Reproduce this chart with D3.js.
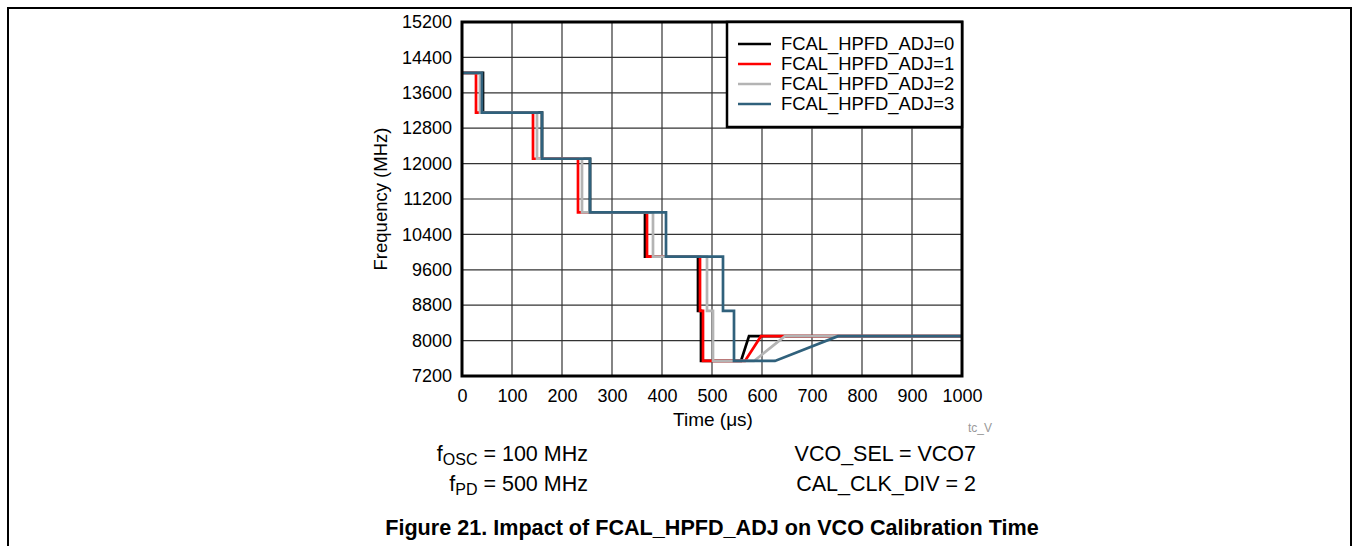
<!DOCTYPE html>
<html>
<head>
<meta charset="utf-8">
<script src="https://cdn.jsdelivr.net/npm/d3@7"></script>
<style>
  body { margin: 0; background: #fff; }
  svg { display: block; font-family: "Liberation Sans", Arial, sans-serif; }
</style>
</head>
<body>
<div id="chart"></div>
<script>
// ---- data ----
const xTicks = [0, 100, 200, 300, 400, 500, 600, 700, 800, 900, 1000];
const yTicks = [7200, 8000, 8800, 9600, 10400, 11200, 12000, 12800, 13600, 14400, 15200];

const seriesNames = ["FCAL_HPFD_ADJ=0", "FCAL_HPFD_ADJ=1", "FCAL_HPFD_ADJ=2", "FCAL_HPFD_ADJ=3"];
const seriesColors = ["#000000", "#ff0000", "#b4b4b4", "#30617c"];

// time (us) / frequency (MHz) pairs for each setting
const adj0Time = [0, 42, 42, 160, 160, 256, 256, 366, 366, 472, 472, 478, 478, 558, 574, 1000];
const adj0Freq = [14050, 14050, 13150, 13150, 12110, 12110, 10900, 10900, 9900, 9900, 8670, 8670, 7540, 7540, 8100, 8100];

const adj1Time = [0, 28, 28, 142, 142, 232, 232, 370, 370, 476, 476, 482, 482, 566, 598, 1000];
const adj1Freq = [14050, 14050, 13150, 13150, 12110, 12110, 10900, 10900, 9900, 9900, 8670, 8670, 7540, 7540, 8100, 8100];

const adj2Time = [0, 36, 36, 150, 150, 240, 240, 382, 382, 490, 490, 502, 502, 584, 646, 1000];
const adj2Freq = [14050, 14050, 13150, 13150, 12110, 12110, 10900, 10900, 9900, 9900, 8670, 8670, 7540, 7540, 8100, 8100];

const adj3Time = [0, 40, 40, 160, 160, 256, 256, 408, 408, 522, 522, 544, 544, 626, 752, 1000];
const adj3Freq = [14050, 14050, 13150, 13150, 12110, 12110, 10900, 10900, 9900, 9900, 8670, 8670, 7540, 7540, 8100, 8100];

const allTimes = [adj0Time, adj1Time, adj2Time, adj3Time];
const allFreqs = [adj0Freq, adj1Freq, adj2Freq, adj3Freq];

// ---- layout ----
const W = 1353, H = 546;
const plot = { left: 462, right: 962, top: 22, bottom: 376 };

const svg = d3.select("#chart").append("svg")
  .attr("width", W)
  .attr("height", H);

// page frame
svg.append("path")
  .attr("d", `M8,${H} L8,8 L1351,8 L1351,${H}`)
  .attr("fill", "none")
  .attr("stroke", "#000")
  .attr("stroke-width", 2);

const x = d3.scaleLinear().domain([0, 1000]).range([plot.left, plot.right]);
const y = d3.scaleLinear().domain([7200, 15200]).range([plot.bottom, plot.top]);

// grid
const grid = svg.append("g");
grid.selectAll(".vg")
  .data(xTicks.slice(1, -1))
  .enter().append("line")
  .attr("x1", d => x(d)).attr("x2", d => x(d))
  .attr("y1", plot.top).attr("y2", plot.bottom)
  .attr("stroke", "#333").attr("stroke-width", 1.2);
grid.selectAll(".hg")
  .data(yTicks.slice(1, -1))
  .enter().append("line")
  .attr("x1", plot.left).attr("x2", plot.right)
  .attr("y1", d => y(d)).attr("y2", d => y(d))
  .attr("stroke", "#333").attr("stroke-width", 1.2);

// axes labels (no tick marks in the figure)
const xAxis = svg.append("g")
  .attr("transform", `translate(0,${plot.bottom + 9})`)
  .call(d3.axisBottom(x).tickValues(xTicks).tickSize(0).tickPadding(0).tickFormat(d3.format("d")));
const yAxis = svg.append("g")
  .attr("transform", `translate(${plot.left - 10},0)`)
  .call(d3.axisLeft(y).tickValues(yTicks).tickSize(0).tickPadding(0).tickFormat(d3.format("d")));
[xAxis, yAxis].forEach(a => {
  a.select(".domain").remove();
  a.selectAll("text")
    .attr("font-family", "Liberation Sans, Arial, sans-serif")
    .attr("font-size", 18)
    .attr("fill", "#000");
});
xAxis.selectAll("text").attr("dy", "0.95em");

// lines
const line = d3.line().x(d => x(d[0])).y(d => y(d[1]));
allTimes.forEach((times, i) => {
  const pts = times.map((t, k) => [t, allFreqs[i][k]]);
  svg.append("path")
    .datum(pts)
    .attr("fill", "none")
    .attr("stroke", seriesColors[i])
    .attr("stroke-width", 2.7)
    .attr("stroke-linejoin", "miter")
    .attr("d", line);
});

// plot border
svg.append("rect")
  .attr("x", plot.left).attr("y", plot.top)
  .attr("width", plot.right - plot.left)
  .attr("height", plot.bottom - plot.top)
  .attr("fill", "none")
  .attr("stroke", "#000")
  .attr("stroke-width", 3);

// legend
const lg = svg.append("g");
lg.append("rect")
  .attr("x", 727).attr("y", plot.top)
  .attr("width", plot.right - 727).attr("height", 105)
  .attr("fill", "#fff")
  .attr("stroke", "#000")
  .attr("stroke-width", 2.5);
seriesNames.forEach((name, i) => {
  const cy = 44 + i * 20;
  lg.append("line")
    .attr("x1", 738).attr("x2", 771)
    .attr("y1", cy).attr("y2", cy)
    .attr("stroke", seriesColors[i])
    .attr("stroke-width", 2.5);
  lg.append("text")
    .attr("x", 781).attr("y", cy)
    .attr("dy", "0.35em")
    .attr("font-size", 18.4)
    .text(name);
});

// axis titles
svg.append("text")
  .attr("transform", "translate(387,199) rotate(-90)")
  .attr("text-anchor", "middle")
  .attr("font-size", 18.5)
  .text("Frequency (MHz)");
svg.append("text")
  .attr("x", 713).attr("y", 426)
  .attr("text-anchor", "middle")
  .attr("font-size", 19)
  .text("Time (\u03bcs)");
svg.append("text")
  .attr("x", 992).attr("y", 432)
  .attr("text-anchor", "end")
  .attr("font-size", 12)
  .attr("fill", "#999")
  .text("tc_V");

// conditions
function note(xp, yp, parts) {
  const t = svg.append("text")
    .attr("x", xp).attr("y", yp)
    .attr("text-anchor", "end")
    .attr("font-size", 21.5);
  parts.forEach(p => {
    const s = t.append("tspan").text(p.t);
    if (p.sub) s.attr("font-size", 16).attr("baseline-shift", "-25%");
  });
}
note(588, 461, [{ t: "f" }, { t: "OSC", sub: true }, { t: " = 100 MHz" }]);
note(588, 491, [{ t: "f" }, { t: "PD", sub: true }, { t: " = 500 MHz" }]);
note(976, 461, [{ t: "VCO_SEL = VCO7" }]);
note(976, 491, [{ t: "CAL_CLK_DIV = 2" }]);

// caption
svg.append("text")
  .attr("x", 712).attr("y", 535)
  .attr("text-anchor", "middle")
  .attr("font-size", 21.6)
  .attr("font-weight", "bold")
  .text("Figure 21. Impact of FCAL_HPFD_ADJ on VCO Calibration Time");
</script>
</body>
</html>
